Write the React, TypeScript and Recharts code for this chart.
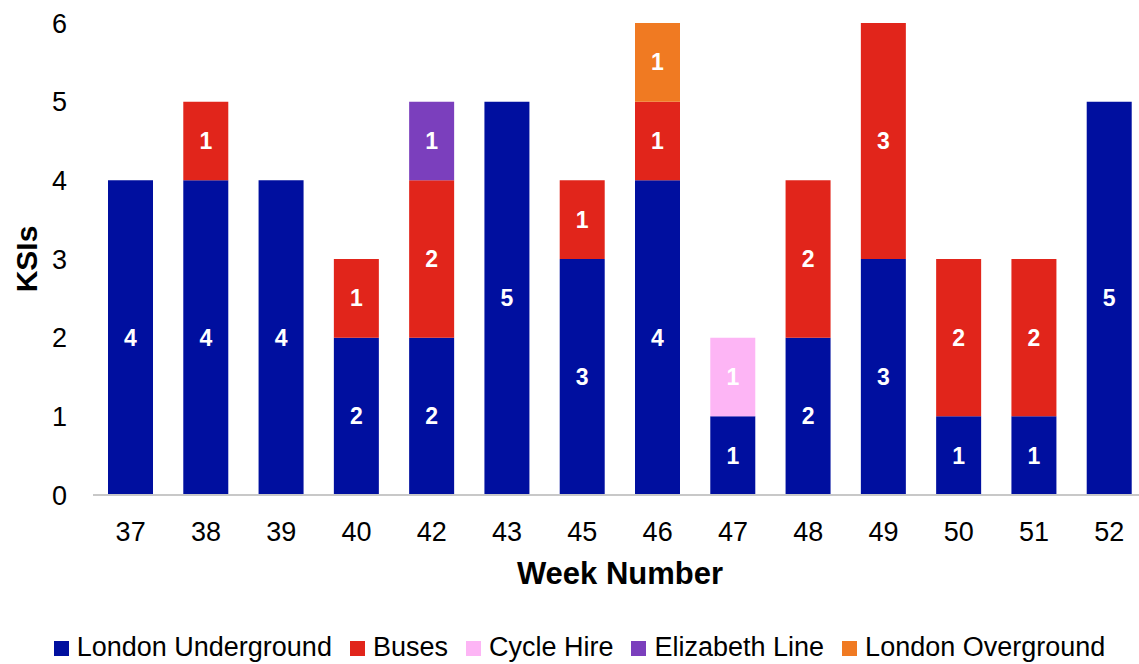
import { Bar, BarChart, LabelList, XAxis, YAxis } from 'recharts';

const weeks = ['37', '38', '39', '40', '42', '43', '45', '46', '47', '48', '49', '50', '51', '52'];
const underground = [4, 4, 4, 2, 2, 5, 3, 4, 1, 2, 3, 1, 1, 5];
const buses = [0, 1, 0, 1, 2, 0, 1, 1, 0, 2, 3, 2, 2, 0];
const cycleHire = [0, 0, 0, 0, 0, 0, 0, 0, 1, 0, 0, 0, 0, 0];
const elizabeth = [0, 0, 0, 0, 1, 0, 0, 0, 0, 0, 0, 0, 0, 0];
const overground = [0, 0, 0, 0, 0, 0, 0, 1, 0, 0, 0, 0, 0, 0];
const yTicks = [0, 1, 2, 3, 4, 5, 6];

const SERIES = [
  { key: 'underground', name: 'London Underground', color: '#000F9F', values: underground },
  { key: 'buses', name: 'Buses', color: '#E1251B', values: buses },
  { key: 'cycleHire', name: 'Cycle Hire', color: '#FDB5F5', values: cycleHire },
  { key: 'elizabeth', name: 'Elizabeth Line', color: '#7B3FBD', values: elizabeth },
  { key: 'overground', name: 'London Overground', color: '#F07A22', values: overground },
];

const FONT = '"Liberation Sans", Arial, sans-serif';

// null instead of 0 so empty segments get no label
const rows = weeks.map((week, i) => {
  const row: Record<string, string | number | null> = { week };
  SERIES.forEach((s) => {
    row[s.key] = s.values[i] > 0 ? s.values[i] : null;
  });
  return row;
});

function SegmentLabel(props: any) {
  const { x, y, width, height, value } = props;
  if (!value) return null;
  return (
    <text
      x={Number(x) + Number(width) / 2}
      y={Number(y) + Number(height) / 2}
      textAnchor="middle"
      dominantBaseline="central"
      fill="#fff"
      fontWeight="bold"
      fontSize={23}
      fontFamily={FONT}
    >
      {value}
    </text>
  );
}

export default function App() {
  return (
    <div
      style={{
        position: 'absolute',
        left: 0,
        top: 0,
        width: 1139,
        height: 664,
        overflow: 'hidden',
        background: '#fff',
        fontFamily: FONT,
      }}
    >
      <BarChart
        width={1147}
        height={664}
        data={rows}
        margin={{ top: 23, right: 0, left: 0, bottom: 0 }}
        barSize={45}
      >
        <XAxis
          dataKey="week"
          height={169}
          tickLine={false}
          axisLine={{ stroke: '#C8C8C8', strokeWidth: 2 }}
          tickMargin={21}
          tick={{ fontSize: 27, fill: '#000', fontFamily: FONT }}
          label={{
            content: (p: any) => (
              <text
                x={p.viewBox.x + p.viewBox.width / 2}
                y={p.viewBox.y + 89}
                textAnchor="middle"
                fontWeight="bold"
                fontSize={31}
                fontFamily={FONT}
                fill="#000"
              >
                Week Number
              </text>
            ),
          }}
        />
        <YAxis
          width={93}
          domain={[0, 6]}
          ticks={yTicks}
          allowDecimals={false}
          axisLine={false}
          tickLine={false}
          tickMargin={20}
          tick={{ fontSize: 27, fill: '#000', fontFamily: FONT }}
          label={{
            content: (p: any) => (
              <text
                x={37}
                y={p.viewBox.y + p.viewBox.height / 2}
                transform={`rotate(-90, 37, ${p.viewBox.y + p.viewBox.height / 2})`}
                textAnchor="middle"
                fontWeight="bold"
                fontSize={30}
                fontFamily={FONT}
                fill="#000"
              >
                KSIs
              </text>
            ),
          }}
        />
        {SERIES.map((s) => (
          <Bar
            key={s.key}
            dataKey={s.key}
            name={s.name}
            stackId="ksi"
            fill={s.color}
            isAnimationActive={false}
          >
            <LabelList dataKey={s.key} content={SegmentLabel} />
          </Bar>
        ))}
      </BarChart>
      <div
        style={{
          position: 'absolute',
          left: 10,
          top: 632,
          width: 1139,
          display: 'flex',
          justifyContent: 'center',
          fontSize: 27,
          lineHeight: '31px',
          color: '#000',
          whiteSpace: 'nowrap',
        }}
      >
        {SERIES.map((s, i) => (
          <div
            key={s.key}
            style={{
              display: 'flex',
              alignItems: 'center',
              marginRight: i === SERIES.length - 1 ? 0 : 18,
            }}
          >
            <span
              style={{
                display: 'inline-block',
                width: 15,
                height: 15,
                background: s.color,
                marginRight: 8,
                marginTop: 2,
              }}
            />
            <span>{s.name}</span>
          </div>
        ))}
      </div>
    </div>
  );
}
